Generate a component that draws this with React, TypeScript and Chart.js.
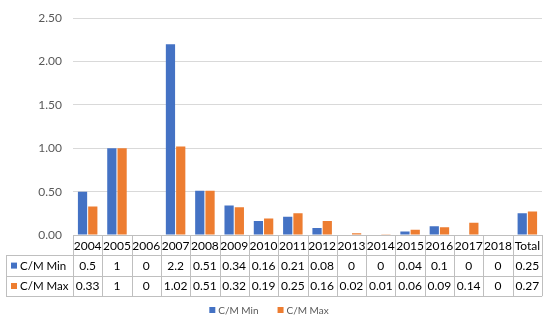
import React, { useEffect, useRef } from "react";
import { Chart, registerables } from "chart.js";

Chart.register(...registerables);

const categories = ["2004", "2005", "2006", "2007", "2008", "2009", "2010", "2011", "2012", "2013", "2014", "2015", "2016", "2017", "2018", "Total"];
const minLabels = ["0.5", "1", "0", "2.2", "0.51", "0.34", "0.16", "0.21", "0.08", "0", "0", "0.04", "0.1", "0", "0", "0.25"];
const maxLabels = ["0.33", "1", "0", "1.02", "0.51", "0.32", "0.19", "0.25", "0.16", "0.02", "0.01", "0.06", "0.09", "0.14", "0", "0.27"];
const cmMin = minLabels.map(Number);
const cmMax = maxLabels.map(Number);
const seriesNames = ["C/M Min", "C/M Max"];
const colors = ["#4472C4", "#ED7D31"];

const FONT = "Lato, 'Liberation Sans', sans-serif";

const tablePlugin = {
  id: "dataTable",
  afterDraw(chart: any) {
    const ctx = chart.ctx;
    const x = chart.scales.x;
    const area = chart.chartArea;
    const n = categories.length;
    const w = (area.right - area.left) / n;
    const rowH = 20.4;
    const top = area.bottom;
    const tableLeft = 6;
    const r1 = top + rowH;
    const r2 = top + rowH * 2;
    const r3 = top + rowH * 3;
    ctx.save();
    ctx.strokeStyle = "#BFBFBF";
    ctx.lineWidth = 1;
    ctx.beginPath();
    ctx.moveTo(area.left, Math.round(top) + 0.5);
    ctx.lineTo(area.right, Math.round(top) + 0.5);
    for (const yy of [r1, r2, r3]) {
      ctx.moveTo(tableLeft, Math.round(yy) + 0.5);
      ctx.lineTo(area.right, Math.round(yy) + 0.5);
    }
    for (let i = 0; i <= n; i++) {
      const xx = Math.round(area.left + i * w) + 0.5;
      ctx.moveTo(xx, top);
      ctx.lineTo(xx, r3);
    }
    ctx.moveTo(tableLeft + 0.5, r1);
    ctx.lineTo(tableLeft + 0.5, r3);
    ctx.stroke();

    ctx.fillStyle = "#000000";
    ctx.font = `12px ${FONT}`;
    ctx.textAlign = "center";
    ctx.textBaseline = "middle";
    for (let i = 0; i < n; i++) {
      const cx = x.getPixelForValue(i);
      ctx.fillText(categories[i], cx, top + rowH / 2 + 0.5);
      ctx.fillText(minLabels[i], cx, r1 + rowH / 2 + 0.5);
      ctx.fillText(maxLabels[i], cx, r2 + rowH / 2 + 0.5);
    }
    ctx.textAlign = "left";
    ctx.font = `11.5px ${FONT}`;
    [r1, r2].forEach((ry, k) => {
      ctx.fillStyle = colors[k];
      ctx.fillRect(11, ry + rowH / 2 - 3, 6, 6);
      ctx.fillStyle = "#000000";
      ctx.fillText(seriesNames[k], 20, ry + rowH / 2 + 0.5);
    });

    ctx.font = `10px ${FONT}`;
    const ly = 310;
    const items = seriesNames.map((s) => ctx.measureText(s).width);
    const box = 6;
    const gap = 3;
    const itemGap = 19;
    const total = items.reduce((a, b) => a + b + box + gap, 0) + itemGap;
    let lx = 269 - total / 2;
    seriesNames.forEach((s, k) => {
      ctx.fillStyle = colors[k];
      ctx.fillRect(lx, ly - 3, box, box);
      ctx.fillStyle = "#595959";
      ctx.fillText(s, lx + box + gap, ly + 0.5);
      lx += box + gap + items[k] + itemGap;
    });
    ctx.restore();
  },
};

export default function App() {
  const ref = useRef<HTMLCanvasElement>(null);
  useEffect(() => {
    if (!ref.current) return;
    const chart = new Chart(ref.current, {
      type: "bar",
      data: {
        labels: categories,
        datasets: [
          { label: seriesNames[0], data: cmMin, backgroundColor: colors[0] },
          { label: seriesNames[1], data: cmMax, backgroundColor: colors[1] },
        ],
      },
      options: {
        animation: false,
        responsive: false,
        maintainAspectRatio: false,
        layout: { padding: { top: 10, bottom: 86, left: 0, right: 8 } },
        datasets: { bar: { categoryPercentage: 0.7, barPercentage: 0.9 } },
        plugins: { legend: { display: false }, tooltip: { enabled: false } },
        scales: {
          x: { display: false },
          y: {
            min: 0,
            max: 2.5,
            ticks: {
              stepSize: 0.5,
              padding: 11,
              color: "#595959",
              font: { family: FONT, size: 12 },
              callback: (v: any) => Number(v).toFixed(2),
            },
            grid: { color: "#D9D9D9", drawTicks: false },
            border: { display: false },
            afterFit: (s: any) => {
              s.width = 73;
            },
          },
        },
      },
      plugins: [tablePlugin],
    });
    return () => chart.destroy();
  }, []);
  return (
    <div style={{ position: "fixed", left: 0, top: 0, width: 550, height: 321, background: "#fff" }}>
      <canvas ref={ref} width={550} height={321} style={{ width: 550, height: 321 }} />
    </div>
  );
}
